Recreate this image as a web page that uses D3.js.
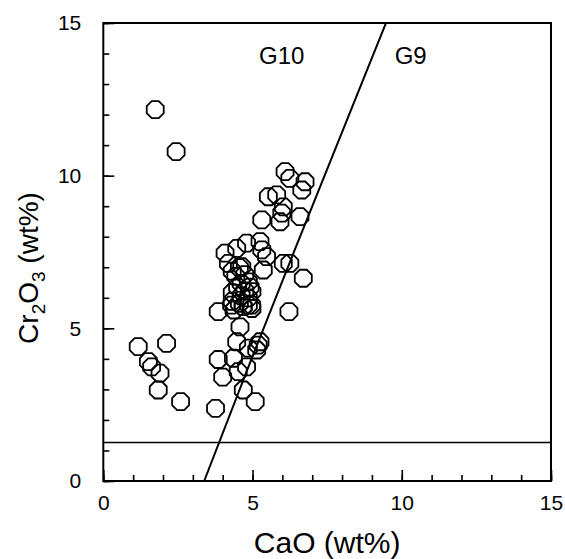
<!DOCTYPE html>
<html>
<head>
<meta charset="utf-8">
<script src="https://cdn.jsdelivr.net/npm/d3@7"></script>
<style>
  body { margin: 0; background: #fff; }
  text { font-family: "Liberation Sans", Arial, sans-serif; fill: #000; }
</style>
</head>
<body>
<svg></svg>
<script>
// garnet analyses, CaO vs Cr2O3 (wt%)
let caO = [1.74, 2.44, 6.09, 6.25, 6.76, 6.65, 5.53, 5.81, 6.03, 5.98, 5.92, 5.31, 6.59,
           4.80, 5.25, 5.31, 4.47, 4.08, 5.47, 4.19, 6.03, 6.25, 5.36, 6.70,
           4.64, 4.32, 4.56, 4.44, 4.74, 4.86, 4.62, 4.92, 4.50, 4.74, 4.32, 4.98, 4.62,
           4.86, 4.32, 4.56, 4.86, 4.98, 4.38, 4.68, 4.30, 4.69, 4.97,
           3.85, 6.22, 4.58, 4.47, 5.25, 5.14, 4.86, 5.19, 3.85, 4.36, 4.80, 4.52,
           4.00, 4.69, 5.09, 3.76,
           1.17, 2.12, 1.51, 1.62, 1.90, 1.84, 2.59]
let cr2O3 = [12.16, 10.79, 10.13, 9.91, 9.80, 9.53, 9.31, 9.37, 8.98, 8.77, 8.49, 8.55, 8.66,
             7.79, 7.84, 7.57, 7.62, 7.46, 7.35, 7.13, 7.13, 7.13, 6.91, 6.64,
             7.02, 6.87, 6.99, 6.70, 6.76, 6.52, 6.47, 6.35, 6.35, 6.23, 6.17, 6.20, 6.06,
             6.00, 5.88, 5.82, 5.76, 5.65, 5.60, 5.71, 5.76, 5.71, 5.76,
             5.55, 5.55, 5.05, 4.56, 4.56, 4.29, 4.35, 4.45, 3.98, 4.02, 3.74, 3.58,
             3.40, 2.98, 2.60, 2.38,
             4.40, 4.51, 3.91, 3.74, 3.53, 2.98, 2.60]

// G10 / G9 boundary
let lineCaO = [3.38, 4.95, 6.37, 9.47]
let lineCr = [0, 3.96, 7.46, 15]
let crLimit = 1.26

let majorTicks = [0, 5, 10, 15]
let minorTicks = d3.range(0, 16)
let fieldLabels = ["G10", "G9"]
let fieldCaO = [5.98, 10.3]
let fieldCr = [13.65, 13.65]

let width = 565
let height = 559
let padLeft = 103.3, padRight = 551, padTop = 23, padBottom = 481

let svg = d3.select('svg')
svg.attr('width', width).attr('height', height)

let xScale = d3.scaleLinear().domain([0, 15]).range([padLeft, padRight])
let yScale = d3.scaleLinear().domain([0, 15]).range([padBottom, padTop])

let drawAxes = () => {
    let xMinor = d3.axisBottom(xScale).tickValues(minorTicks).tickSize(-6).tickFormat('')
    let xMajor = d3.axisBottom(xScale).tickValues(majorTicks).tickSize(-11).tickPadding(14)
    let yMinor = d3.axisLeft(yScale).tickValues(minorTicks).tickSize(-6).tickFormat('')
    let yMajor = d3.axisLeft(yScale).tickValues(majorTicks).tickSize(-11).tickPadding(22)

    svg.append('g').attr('transform', 'translate(0,' + padBottom + ')').call(xMinor)
    svg.append('g').attr('transform', 'translate(0,' + padBottom + ')').call(xMajor)
    svg.append('g').attr('transform', 'translate(' + padLeft + ',0)').call(yMinor)
    svg.append('g').attr('transform', 'translate(' + padLeft + ',0)').call(yMajor)

    svg.selectAll('.domain').remove()
    svg.selectAll('.tick line').attr('stroke', '#000').attr('stroke-width', 1.6)
    svg.selectAll('.tick text').style('font-size', '21px').attr('fill', '#000')

    svg.append('rect')
       .attr('x', padLeft).attr('y', padTop)
       .attr('width', padRight - padLeft).attr('height', padBottom - padTop)
       .attr('fill', 'none').attr('stroke', '#000').attr('stroke-width', 2)
}

let drawLines = () => {
    let pts = lineCaO.map((d, i) => [d, lineCr[i]])
    let line = d3.line()
                 .x((d) => xScale(d[0]))
                 .y((d) => yScale(d[1]))
                 .curve(d3.curveMonotoneY)
    svg.append('path')
       .attr('d', line(pts))
       .attr('fill', 'none').attr('stroke', '#000').attr('stroke-width', 2)

    svg.append('line')
       .attr('x1', xScale(0)).attr('x2', xScale(15))
       .attr('y1', yScale(crLimit)).attr('y2', yScale(crLimit))
       .attr('stroke', '#000').attr('stroke-width', 1.6)
}

let drawPoints = () => {
    let r = 9.2
    let octagon = d3.range(8).map((k) => {
        let a = Math.PI / 8 + k * Math.PI / 4
        return [r * Math.cos(a), r * Math.sin(a)]
    })
    let path = 'M' + octagon.map((p) => p[0].toFixed(2) + ',' + p[1].toFixed(2)).join('L') + 'Z'

    svg.selectAll('.pt')
       .data(caO.map((d, i) => [d, cr2O3[i]]))
       .enter()
       .append('path')
       .attr('class', 'pt')
       .attr('d', path)
       .attr('transform', (d) => 'translate(' + xScale(d[0]) + ',' + yScale(d[1]) + ')')
       .attr('fill', 'none')
       .attr('stroke', '#000')
       .attr('stroke-width', 1.8)
}

let drawLabels = () => {
    svg.selectAll('.field')
       .data(fieldLabels)
       .enter()
       .append('text')
       .attr('x', (d, i) => xScale(fieldCaO[i]))
       .attr('y', (d, i) => yScale(fieldCr[i]))
       .attr('text-anchor', 'middle')
       .style('font-size', '24px')
       .text((d) => d)

    svg.append('text')
       .attr('x', (padLeft + padRight) / 2)
       .attr('y', 553)
       .attr('text-anchor', 'middle')
       .style('font-size', '30px')
       .text('CaO (wt%)')

    let yl = svg.append('text')
                .attr('transform', 'translate(38,' + 268 + ') rotate(-90)')
                .attr('text-anchor', 'middle')
                .style('font-size', '28px')
    yl.append('tspan').text('Cr')
    yl.append('tspan').text('2').attr('dy', 7).style('font-size', '19px')
    yl.append('tspan').text('O').attr('dy', -7)
    yl.append('tspan').text('3').attr('dy', 7).style('font-size', '19px')
    yl.append('tspan').text(' (wt%)').attr('dy', -7)
}

drawAxes()
drawLines()
drawPoints()
drawLabels()
</script>
</body>
</html>
